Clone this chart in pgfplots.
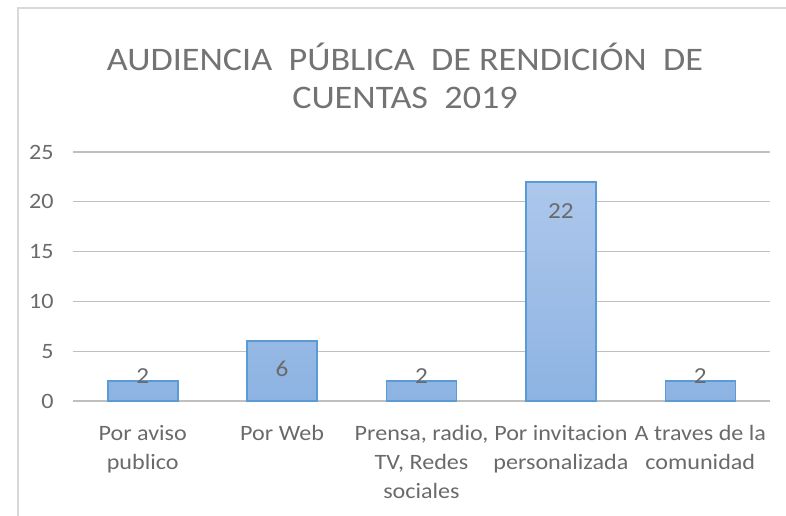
\documentclass[border=0pt]{standalone}
\usepackage{pgfplots}
\pgfplotsset{compat=1.18}
\usepackage{pgfplotstable}
\usepackage{fontspec}
\setmainfont{Carlito}[FakeStretch=1.1]
\definecolor{txt}{HTML}{6A6A6A}
\definecolor{ttl}{HTML}{737373}
\definecolor{grid}{HTML}{D9D9D9}
\definecolor{barline}{HTML}{5B9BD5}
\definecolor{bartop}{HTML}{ADC7EC}
\definecolor{barbot}{HTML}{8DB3E2}
\pgfplotstableread{
x y off
0 2 5
1 6 -28
2 2 5
3 22 -29
4 2 5
}\datatab
\begin{document}
\begin{tikzpicture}[x=1bp,y=1bp]
\useasboundingbox (0,0) rectangle (786,516);
\draw[grid, line width=1.2bp] (18,0) -- (18,508) -- (786,508);
\node[ttl, font=\fontsize{33}{40}\selectfont] at (405,459) {AUDIENCIA\ \ PÚBLICA\ \ DE RENDICIÓN\ \ DE};
\node[ttl, font=\fontsize{33}{40}\selectfont] at (405,418) {CUENTAS\ \ 2019};
\begin{axis}[
  at={(73bp,115bp)}, anchor=south west,
  scale only axis, width=697bp, height=249bp,
  xmin=-0.5, xmax=4.5, ymin=0, ymax=25,
  ytick={0,5,...,25},
  xtick={0,1,2,3,4},
  xticklabels={{Por aviso\\publico},{Por Web},{Prensa, radio,\\TV, Redes\\sociales},{Por invitacion\\personalizada},{A traves de la\\comunidad}},
  xmajorgrids=false, ymajorgrids, grid style={grid, line width=1.2bp},
  axis line style={draw=none},
  major tick length=0pt,
  /pgf/number format/assume math mode=true,
  tick label style={txt, font=\fontsize{22}{28.8}\selectfont},
  yticklabel style={xshift=-16bp},
  xticklabel style={align=center, yshift=-21bp, anchor=north},
  clip=false,
]
\addplot[ybar, bar width=70bp, draw=barline, line width=1.6bp, top color=bartop, bottom color=barbot,
  nodes near coords, point meta=explicit,
  visualization depends on={\thisrow{off} \as \off},
  every node near coord/.append style={txt, font=\fontsize{23}{26}\selectfont, anchor=center, yshift=\off bp},
] table[x=x, y=y, meta=y] {\datatab};
\end{axis}
\end{tikzpicture}
\end{document}
